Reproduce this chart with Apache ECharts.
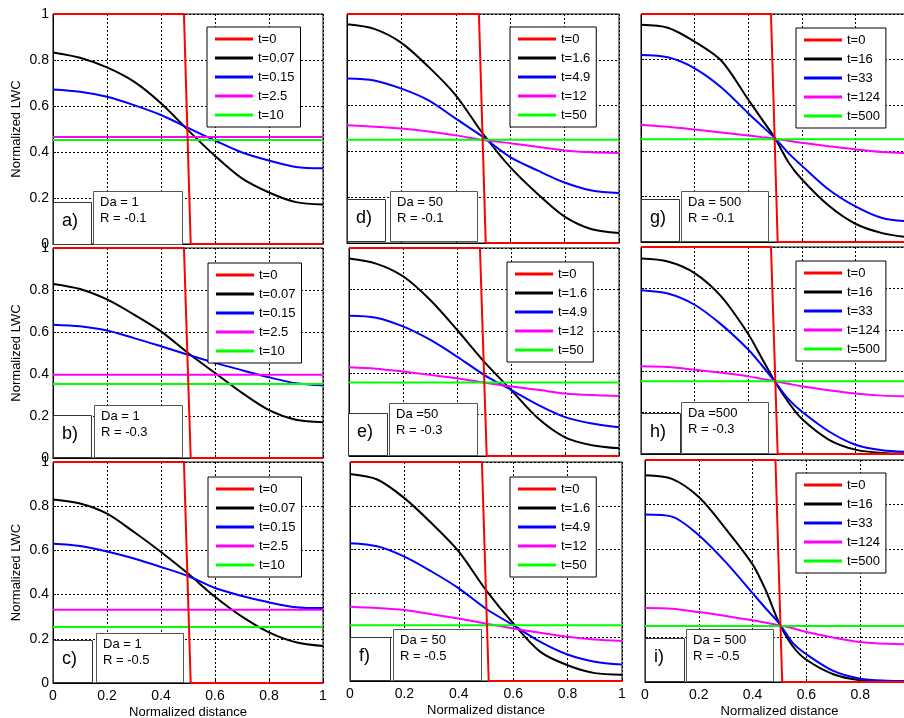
<!DOCTYPE html>
<html><head><meta charset="utf-8">
<script src="https://cdn.jsdelivr.net/npm/echarts@6/dist/echarts.min.js"></script>
<style>html,body{margin:0;padding:0;background:#fff}#c{width:904px;height:718px}</style>
</head><body><div id="c"></div>
<script>
// ---------- data ----------
const xs = [0, 0.1, 0.2, 0.3, 0.4, 0.5, 0.6, 0.7, 0.8, 0.9, 1];
const xs3 = [0, 0.1, 0.2, 0.3, 0.4, 0.45, 0.5, 0.55, 0.6, 0.7, 0.8, 0.9, 1];
const stepX = [0, 0.485, 0.51, 1];
const stepY = [1, 1, 0, 0];
const ticks = [0, 0.2, 0.4, 0.6, 0.8, 1];

const panelLetters = ['a)', 'b)', 'c)', 'd)', 'e)', 'f)', 'g)', 'h)', 'i)'];
const daLabels = ['Da = 1', 'Da = 1', 'Da = 1', 'Da = 50', 'Da =50', 'Da = 50', 'Da = 500', 'Da =500', 'Da = 500'];
const rLabels = ['R = -0.1', 'R = -0.3', 'R = -0.5', 'R = -0.1', 'R = -0.3', 'R = -0.5', 'R = -0.1', 'R = -0.3', 'R = -0.5'];

const legendCol1 = ['t=0', 't=0.07', 't=0.15', 't=2.5', 't=10'];
const legendCol2 = ['t=0', 't=1.6', 't=4.9', 't=12', 't=50'];
const legendCol3 = ['t=0', 't=16', 't=33', 't=124', 't=500'];

// black curves (second legend entry); columns 1-2 on xs, column 3 on xs3
const blackA = [0.833, 0.810, 0.768, 0.706, 0.612, 0.495, 0.383, 0.285, 0.224, 0.182, 0.172];
const blackB = [0.829, 0.805, 0.755, 0.683, 0.603, 0.500, 0.405, 0.310, 0.228, 0.182, 0.170];
const blackC = [0.830, 0.812, 0.766, 0.683, 0.593, 0.495, 0.390, 0.300, 0.229, 0.184, 0.167];
const blackD = [0.955, 0.935, 0.874, 0.769, 0.645, 0.477, 0.331, 0.215, 0.115, 0.060, 0.044];
const blackE = [0.949, 0.925, 0.864, 0.751, 0.607, 0.454, 0.318, 0.181, 0.090, 0.052, 0.037];
const blackF = [0.945, 0.920, 0.835, 0.720, 0.591, 0.415, 0.263, 0.133, 0.072, 0.036, 0.029];
const blackG = [0.953, 0.940, 0.879, 0.795, 0.625, 0.540, 0.455, 0.350, 0.275, 0.160, 0.080, 0.039, 0.020];
const blackH = [0.944, 0.930, 0.874, 0.760, 0.580, 0.465, 0.349, 0.250, 0.170, 0.070, 0.021, 0.005, 0.002];
const blackI = [0.931, 0.915, 0.833, 0.690, 0.530, 0.410, 0.262, 0.160, 0.100, 0.035, 0.008, 0.003, 0.002];

// blue curves (third legend entry)
const blueA = [0.672, 0.662, 0.640, 0.604, 0.561, 0.505, 0.450, 0.398, 0.363, 0.335, 0.329];
const blueB = [0.635, 0.627, 0.607, 0.571, 0.532, 0.492, 0.453, 0.418, 0.384, 0.356, 0.346];
const blueC = [0.630, 0.620, 0.595, 0.563, 0.525, 0.484, 0.430, 0.394, 0.365, 0.343, 0.339];
const blueD = [0.718, 0.710, 0.674, 0.623, 0.543, 0.463, 0.375, 0.317, 0.264, 0.229, 0.218];
const blueE = [0.674, 0.665, 0.623, 0.559, 0.478, 0.390, 0.318, 0.246, 0.187, 0.156, 0.138];
const blueF = [0.629, 0.615, 0.568, 0.500, 0.423, 0.330, 0.255, 0.179, 0.121, 0.088, 0.075];
const blueG = [0.820, 0.810, 0.762, 0.678, 0.565, 0.510, 0.455, 0.390, 0.335, 0.230, 0.156, 0.105, 0.090];
const blueH = [0.791, 0.775, 0.721, 0.625, 0.505, 0.430, 0.349, 0.265, 0.205, 0.110, 0.045, 0.018, 0.010];
const blueI = [0.754, 0.745, 0.661, 0.540, 0.400, 0.330, 0.262, 0.175, 0.125, 0.050, 0.015, 0.006, 0.004];

// magenta (fourth entry): flat in column 1, curves elsewhere
const flatMagenta = [0.465, 0.397, 0.332];
const magentaD = [0.514, 0.508, 0.500, 0.487, 0.470, 0.450, 0.436, 0.420, 0.404, 0.396, 0.393];
const magentaE = [0.427, 0.420, 0.406, 0.390, 0.374, 0.353, 0.334, 0.318, 0.301, 0.293, 0.289];
const magentaF = [0.339, 0.333, 0.324, 0.305, 0.285, 0.262, 0.240, 0.220, 0.202, 0.190, 0.183];
const magentaG = [0.514, 0.505, 0.493, 0.480, 0.467, 0.460, 0.453, 0.444, 0.435, 0.420, 0.406, 0.395, 0.390];
const magentaH = [0.424, 0.420, 0.407, 0.392, 0.375, 0.363, 0.351, 0.339, 0.327, 0.308, 0.292, 0.282, 0.279];
const magentaI = [0.333, 0.330, 0.315, 0.297, 0.278, 0.267, 0.255, 0.242, 0.225, 0.200, 0.180, 0.172, 0.170];

// green (fifth entry): flat everywhere
const flatGreen = [0.452, 0.352, 0.253, 0.451, 0.353, 0.255, 0.451, 0.351, 0.252];

// ---------- layout ----------
const gridBoxes = [
  [53, 14, 270, 230], [53, 248, 270, 210], [53, 462, 270, 221],
  [347, 14, 272, 229], [349, 248, 270, 208], [350, 462, 272, 219],
  [641, 14, 268, 228], [641, 247, 268, 207], [645, 460, 269, 222]
];
const legendPos = [[207, 27], [208, 263], [208, 477], [510, 27], [507, 262], [510, 477], [796, 28], [796, 261], [796, 473]];
const labelBoxes = [[53, 202, 38, 43], [53, 415, 38, 43], [53, 640, 39, 43], [347, 199, 38, 43], [348, 413, 39, 43], [350, 637, 40, 44], [641, 199, 38, 43], [641, 413, 39, 41], [645, 638, 39, 44]];
const daBoxes = [[93, 191, 89, 54], [94, 405, 88, 53], [96, 633, 87, 50], [390, 191, 87, 51], [389, 403, 88, 53], [393, 629, 88, 52], [681, 191, 87, 51], [681, 402, 87, 52], [686, 629, 87, 53]];

const colors = ['#ff0000', '#000000', '#0000ff', '#ff00ff', '#00ff00'];
const FONT = '"Liberation Sans", Arial, sans-serif';

const blacks = [blackA, blackB, blackC, blackD, blackE, blackF, blackG, blackH, blackI];
const blues = [blueA, blueB, blueC, blueD, blueE, blueF, blueG, blueH, blueI];
const magentas = [null, null, null, magentaD, magentaE, magentaF, magentaG, magentaH, magentaI];
const legends = [legendCol1, legendCol1, legendCol1, legendCol2, legendCol2, legendCol2, legendCol3, legendCol3, legendCol3];

const zip = arr => (arr.length === xs3.length ? xs3 : xs).map((x, i) => [x, arr[i]]);
const flat = v => [[0, v], [1, v]];

const grid = [], xAxis = [], yAxis = [], series = [], legend = [], graphic = [];

for (let p = 0; p < 9; p++) {
  const col = Math.floor(p / 3), row = p % 3;
  const g = gridBoxes[p];
  grid.push({ left: g[0], top: g[1], width: g[2], height: g[3], show: true, borderColor: '#000', borderWidth: 1, backgroundColor: '#fff', containLabel: false, outerBoundsMode: 'none' });
  xAxis.push({
    type: 'value', gridIndex: p, min: 0, max: 1, interval: 0.2,
    name: row === 2 ? 'Normalized distance' : '', nameLocation: 'middle', nameGap: 23,
    nameTextStyle: { fontFamily: FONT, fontSize: 13, color: '#000' },
    axisLine: { show: true, onZero: false, lineStyle: { color: '#000', width: 1 } },
    axisTick: { show: true, inside: true, length: 3, lineStyle: { color: '#000' } },
    axisLabel: { show: row === 2, showMaxLabel: col !== 2, fontFamily: FONT, fontSize: 14, color: '#000', margin: 6 },
    splitLine: { show: true, lineStyle: { color: '#000', type: [2, 2], width: 1 } }
  });
  yAxis.push({
    type: 'value', gridIndex: p, min: 0, max: 1, interval: 0.2,
    name: col === 0 ? 'Normalized LWC' : '', nameLocation: 'middle', nameGap: 30,
    nameTextStyle: { fontFamily: FONT, fontSize: 13, color: '#000' },
    axisLine: { show: true, onZero: false, lineStyle: { color: '#000', width: 1 } },
    axisTick: { show: true, inside: true, length: 3, lineStyle: { color: '#000' } },
    axisLabel: { show: col === 0, fontFamily: FONT, fontSize: 14, color: '#000', margin: 4 },
    splitLine: { show: true, lineStyle: { color: '#000', type: [2, 2], width: 1 } }
  });
  const names = legends[p];
  const mk = (name, data, ci, smooth, z) => ({
    type: 'line', name, data, xAxisIndex: p, yAxisIndex: p, showSymbol: false, symbol: 'none',
    smooth: smooth ? 0.3 : false, clip: false, z,
    itemStyle: { color: colors[ci] }, lineStyle: { color: colors[ci], width: 2 }, silent: true
  });
  series.push(mk(names[1], zip(blacks[p]), 1, true, 3));
  series.push(mk(names[2], zip(blues[p]), 2, true, 3));
  series.push(mk(names[3], magentas[p] ? zip(magentas[p]) : flat(flatMagenta[row]), 3, !!magentas[p], 3));
  series.push(mk(names[4], flat(flatGreen[p]), 4, false, 4));
  series.push(mk(names[0], stepX.map((x, i) => [x, stepY[i]]), 0, false, 5));

  legend.push({
    data: names, orient: 'vertical', left: legendPos[p][0], top: legendPos[p][1],
    backgroundColor: '#fff', borderColor: '#000', borderWidth: 1, padding: [5, 6, 5, 8],
    icon: 'rect', itemWidth: 38, itemHeight: 3, itemGap: 5, selectedMode: false, z: 10,
    textStyle: { fontFamily: FONT, fontSize: 13, color: '#000', lineHeight: 14 }
  });

  const lb = labelBoxes[p], db = daBoxes[p];
  graphic.push({ type: 'rect', z: 100, shape: { x: lb[0] + 0.5, y: lb[1] + 0.5, width: lb[2], height: lb[3] - 1 }, style: { fill: '#fff', stroke: '#333', lineWidth: 1 } });
  graphic.push({ type: 'rect', z: 100, shape: { x: db[0] + 0.5, y: db[1] + 0.5, width: db[2], height: db[3] - 1 }, style: { fill: '#fff', stroke: '#555', lineWidth: 1 } });
  graphic.push({ type: 'text', z: 101, x: lb[0] + 9, y: lb[1] + 19, style: { text: panelLetters[p], font: '18px ' + FONT, fill: '#000', verticalAlign: 'middle', textVerticalAlign: 'middle' } });
  graphic.push({ type: 'text', z: 101, x: db[0] + 7, y: db[1] + 11, style: { text: daLabels[p], font: '13px ' + FONT, fill: '#000', verticalAlign: 'middle', textVerticalAlign: 'middle' } });
  graphic.push({ type: 'text', z: 101, x: db[0] + 7, y: db[1] + 27, style: { text: rLabels[p], font: '13px ' + FONT, fill: '#000', verticalAlign: 'middle', textVerticalAlign: 'middle' } });
}

const chart = echarts.init(document.getElementById('c'), null, { renderer: 'canvas' });
chart.setOption({ animation: false, backgroundColor: '#fff', grid, xAxis, yAxis, series, legend, graphic });
</script></body></html>
